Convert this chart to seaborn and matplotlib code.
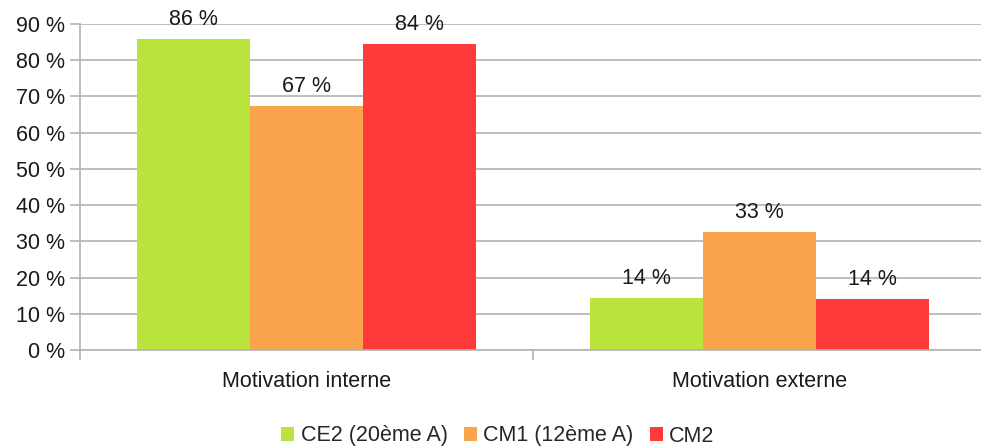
import matplotlib
matplotlib.use("Agg")
import matplotlib.pyplot as plt
import seaborn as sns
import pandas as pd
from matplotlib.ticker import FixedLocator

categories = ["Motivation interne", "Motivation externe"]
series = ["CE2 (20ème A)", "CM1 (12ème A)", "CM2"]
ce2 = [85.8, 14.3]
cm1 = [67.4, 32.6]
cm2 = [84.6, 14.2]
labels_ce2 = ["86 %", "14 %"]
labels_cm1 = ["67 %", "33 %"]
labels_cm2 = ["84 %", "14 %"]
colors = ["#bbe33d", "#fba44e", "#ff3a3a"]
yticks = [0, 10, 20, 30, 40, 50, 60, 70, 80, 90]

sns.set_theme(style="white")
plt.rcParams["font.family"] = ["Liberation Sans", "DejaVu Sans"]

FS = 15.5
TXT = "#1a1a1a"

rows = []
for s, vals in zip(series, [ce2, cm1, cm2]):
    for c, v in zip(categories, vals):
        rows.append({"cat": c, "serie": s, "val": v})
df = pd.DataFrame(rows)

fig = plt.figure(figsize=(9.81, 4.47), dpi=100)
ax = fig.add_axes([80/981, 1-350/447, 906/981, (350-24)/447])

sns.barplot(data=df, x="cat", y="val", hue="serie", hue_order=series,
            order=categories, palette=colors, width=0.75, gap=0,
            saturation=1, ax=ax, legend=True, linewidth=0)

for cont, labs in zip(ax.containers, [labels_ce2, labels_cm1, labels_cm2]):
    ax.bar_label(cont, labels=labs, padding=6.5, fontsize=FS, color=TXT)

ax.set_xlim(-0.5, 1.5)
ax.set_ylim(0, 90)
ax.set_yticks(yticks)
ax.set_yticklabels([f"{t} %" for t in yticks], fontsize=FS, color=TXT)
ax.yaxis.grid(True, color="#b3b3b3", linewidth=1.2)
ax.set_axisbelow(True)
ax.tick_params(axis="y", which="major", length=7, color="#b3b3b3", width=1.2, pad=4,
               left=True)
ax.set_xticks([0, 1])
ax.set_xticklabels(categories, fontsize=FS, color=TXT)
ax.tick_params(axis="x", which="major", length=0, pad=15)
ax.xaxis.set_minor_locator(FixedLocator([-0.5, 0.5, 1.5]))
ax.tick_params(axis="x", which="minor", length=7, color="#b3b3b3", width=1.2, bottom=True)
ax.set_xlabel("")
ax.set_ylabel("")
for side in ["top", "right"]:
    ax.spines[side].set_visible(False)
for side in ["left", "bottom"]:
    ax.spines[side].set_color("#b3b3b3")
    ax.spines[side].set_linewidth(1.2)

handles, labs = ax.get_legend_handles_labels()
ax.get_legend().remove()
fig.legend(handles, labs, loc="center", bbox_to_anchor=(498/981, 1-436/447), ncol=3,
           frameon=False, fontsize=FS, handlelength=0.6, handleheight=0.6,
           handletextpad=0.3, columnspacing=0.75, borderaxespad=0)

fig.savefig("out.png", dpi=100)
